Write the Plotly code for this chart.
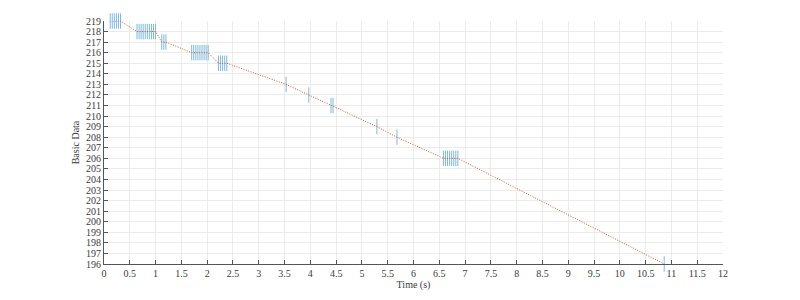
import plotly.graph_objects as go

# Blue marker samples (time s, value)
marker_t = [0.12, 0.16, 0.20, 0.24, 0.28, 0.32,
            0.64, 0.68, 0.72, 0.76, 0.80, 0.84, 0.88, 0.92, 0.96, 1.00,
            1.12, 1.16, 1.20,
            1.70, 1.74, 1.78, 1.82, 1.86, 1.90, 1.94, 1.98, 2.02,
            2.22, 2.26, 2.30, 2.34, 2.38,
            3.53, 3.97, 4.40, 4.44, 5.29, 5.68,
            6.58, 6.62, 6.66, 6.70, 6.74, 6.78, 6.82, 6.86,
            10.86]
marker_v = [219] * 6 + [218] * 10 + [217] * 3 + [216] * 9 + [215] * 5 + \
           [213, 212, 211, 211, 209, 208] + [206] * 8 + [196]

# Orange fitted line breakpoints
line_t = [0.12, 0.32, 0.64, 1.00, 1.12, 1.20, 1.70, 2.02, 2.22, 2.38,
          3.53, 3.97, 4.42, 5.29, 5.68, 6.58, 6.86, 10.86]
line_v = [219, 219, 218, 218, 217, 217, 216, 216, 215, 215,
          213, 212, 211, 209, 208, 206, 206, 196]

x_ticks = [i * 0.5 for i in range(25)]
x_labels = ["0", "0.5", "1", "1.5", "2", "2.5", "3", "3.5", "4", "4.5", "5", "5.5",
            "6", "6.5", "7", "7.5", "8", "8.5", "9", "9.5", "10", "10.5", "11", "11.5", "12"]
y_ticks = list(range(196, 220))

fig = go.Figure()
fig.add_trace(go.Scatter(
    x=marker_t, y=marker_v, mode="markers", cliponaxis=False,
    marker=dict(symbol="line-ns", size=11, line=dict(color="#7DB9E0", width=1)),
    showlegend=False, hoverinfo="skip"))
fig.add_trace(go.Scatter(
    x=line_t, y=line_v, mode="lines",
    line=dict(color="#D95319", width=1, dash="1px,1.5px"),
    showlegend=False, hoverinfo="skip"))

font = dict(family="Liberation Serif, DejaVu Serif, serif", size=10, color="#3A3A3A")
fig.update_layout(
    width=800, height=300,
    margin=dict(l=104, r=77, t=21, b=33),
    paper_bgcolor="white", plot_bgcolor="white",
    font=font,
    xaxis=dict(range=[0, 12], tickvals=x_ticks, ticktext=x_labels,
               showgrid=True, gridcolor="#EBEBEB", gridwidth=1,
               showline=True, linecolor="#555555", linewidth=1,
               ticks="inside", ticklen=4, tickcolor="#555555",
               zeroline=False, tickfont=font,
               title=dict(text="Time (s)", font=font, standoff=2)),
    yaxis=dict(range=[196, 219], tickvals=y_ticks,
               showgrid=True, gridcolor="#EBEBEB", gridwidth=1,
               showline=True, linecolor="#555555", linewidth=1,
               ticks="inside", ticklen=4, tickcolor="#555555",
               zeroline=False, tickfont=font,
               title=dict(text="Basic Data", font=font, standoff=4)),
)
fig.write_html("out.html")
